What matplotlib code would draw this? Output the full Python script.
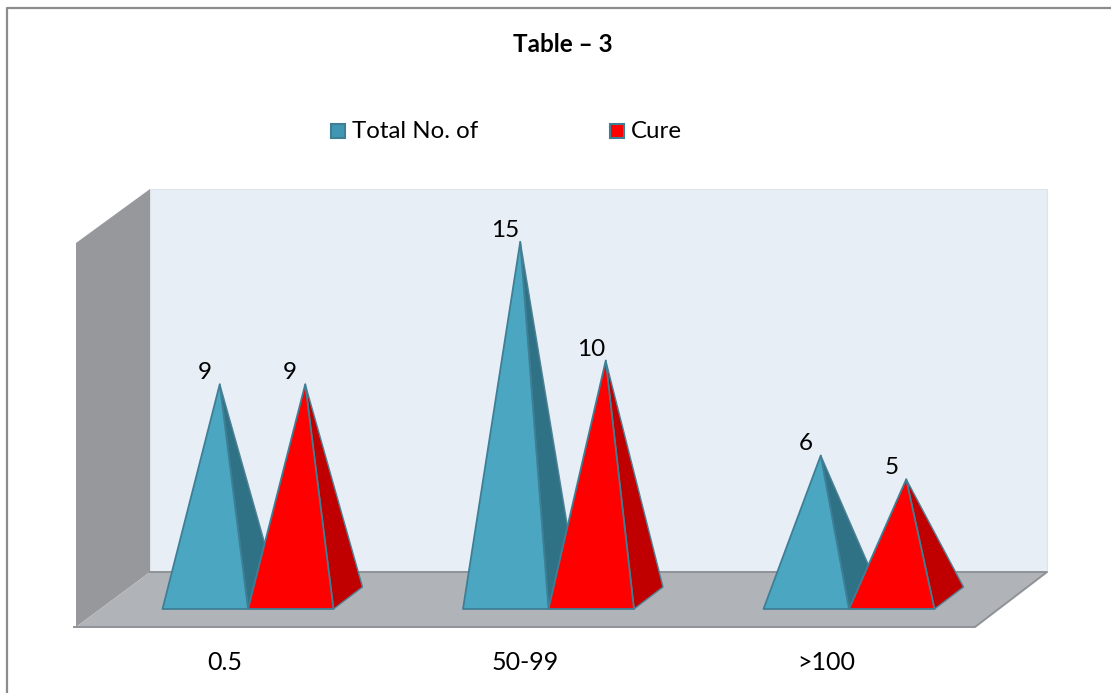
import matplotlib
matplotlib.use("Agg")
import matplotlib.pyplot as plt
from matplotlib.patches import Polygon, Rectangle

categories = ["0.5", "50-99", ">100"]
total_no = [9, 15, 6]
cure = [9, 10, 5]

W, H = 1111, 693
# px per unit of the chart's scales
px_cat = 300.5
px_val = 23.75
x0_px = 248
y0_px = 598
bar_w = 85.5 / px_cat
dx = 29 / px_cat
dy = 22 / px_val

plt.rcParams['font.family'] = ['Lato', 'DejaVu Sans']

fig = plt.figure(figsize=(W / 100, H / 100), dpi=100)
ax = fig.add_axes([0, 0, 1, 1])
ax.set_xlim(-x0_px / px_cat, (W - x0_px) / px_cat)
ax.set_ylim((y0_px - H) / px_val, y0_px / px_val)
ax.axis("off")


def P(x, y):
    # picture pixel -> data, only for the frame and the walls
    return ((x - x0_px) / px_cat, (y0_px - y) / px_val)


def poly(pts, fc, ec="none", lw=0, z=1):
    ax.add_patch(Polygon(pts, closed=True, fc=fc, ec=ec, lw=lw, zorder=z, joinstyle="round"))


def pyramid(left, value, front, side, z):
    right = left + bar_w
    fy = -dy / 2
    apex = (left + bar_w / 2 + dx / 2, value)
    poly([(right, fy), (right + dx, fy + dy), apex], side, "#4F8295", 1.0, z)
    poly([(left, fy), (right, fy), apex], front, "#3F7F96", 1.3, z + 1)


# frame, no line on the right side
ax.plot(*zip(P(6.5, 693), P(6.5, 8), P(1111, 8)), color="#8C8C8C", lw=1.6, zorder=0)

# walls and floor
poly([P(150, 189), P(1047, 189), P(1047, 572), P(150, 572)], "#E7EEF6", "#DDE3E8", 0.8, z=1)
poly([P(76, 243), P(150, 189), P(150, 572), P(76, 627)], "#96989C", z=2)
poly([P(76, 627), P(150, 572), P(1047, 572), P(975, 627)], "#B0B4B8", z=2)
ax.plot(*zip(P(150, 572), P(1047, 572), P(975, 627), P(74, 627)), color="#8F9296", lw=1.4, zorder=3)

# pyramids
for i, cat in enumerate(categories):
    pyramid(i - bar_w, total_no[i], "#4BA6C2", "#2F7286", 10)
    pyramid(i, cure[i], "#FF0000", "#C00000", 12)
    for left, v in ((i - bar_w, total_no[i]), (i, cure[i])):
        ax.annotate(str(v), (left + bar_w / 2 + dx / 2, v), xytext=(-15, 1), textcoords="offset pixels",
                    ha="center", va="bottom", fontsize=17.5, color="black", zorder=20)
    ax.annotate(cat, (i, -dy / 2), xytext=(-23, -53), textcoords="offset pixels",
                ha="center", va="center", fontsize=18, color="black")

# title
tx, ty = P(563, 45)
ax.text(tx, ty, "Table – 3", ha="center", va="center", fontsize=17.5, fontweight="bold", color="black")

# legend
for lx, fc, ec, label in ((331, "#4197B2", "#3F7F96", "Total No. of"), (610, "#FF0000", "#3F7F96", "Cure")):
    bx, by = P(lx, 138)
    ax.add_patch(Rectangle((bx, by), 14 / px_cat, 14 / px_val, fc=fc, ec=ec, lw=1.5, zorder=5))
    tx, ty = P(lx + 21, 132)
    ax.text(tx, ty, label, ha="left", va="center", fontsize=17.3, color="black")

fig.savefig("out.png", dpi=100)
